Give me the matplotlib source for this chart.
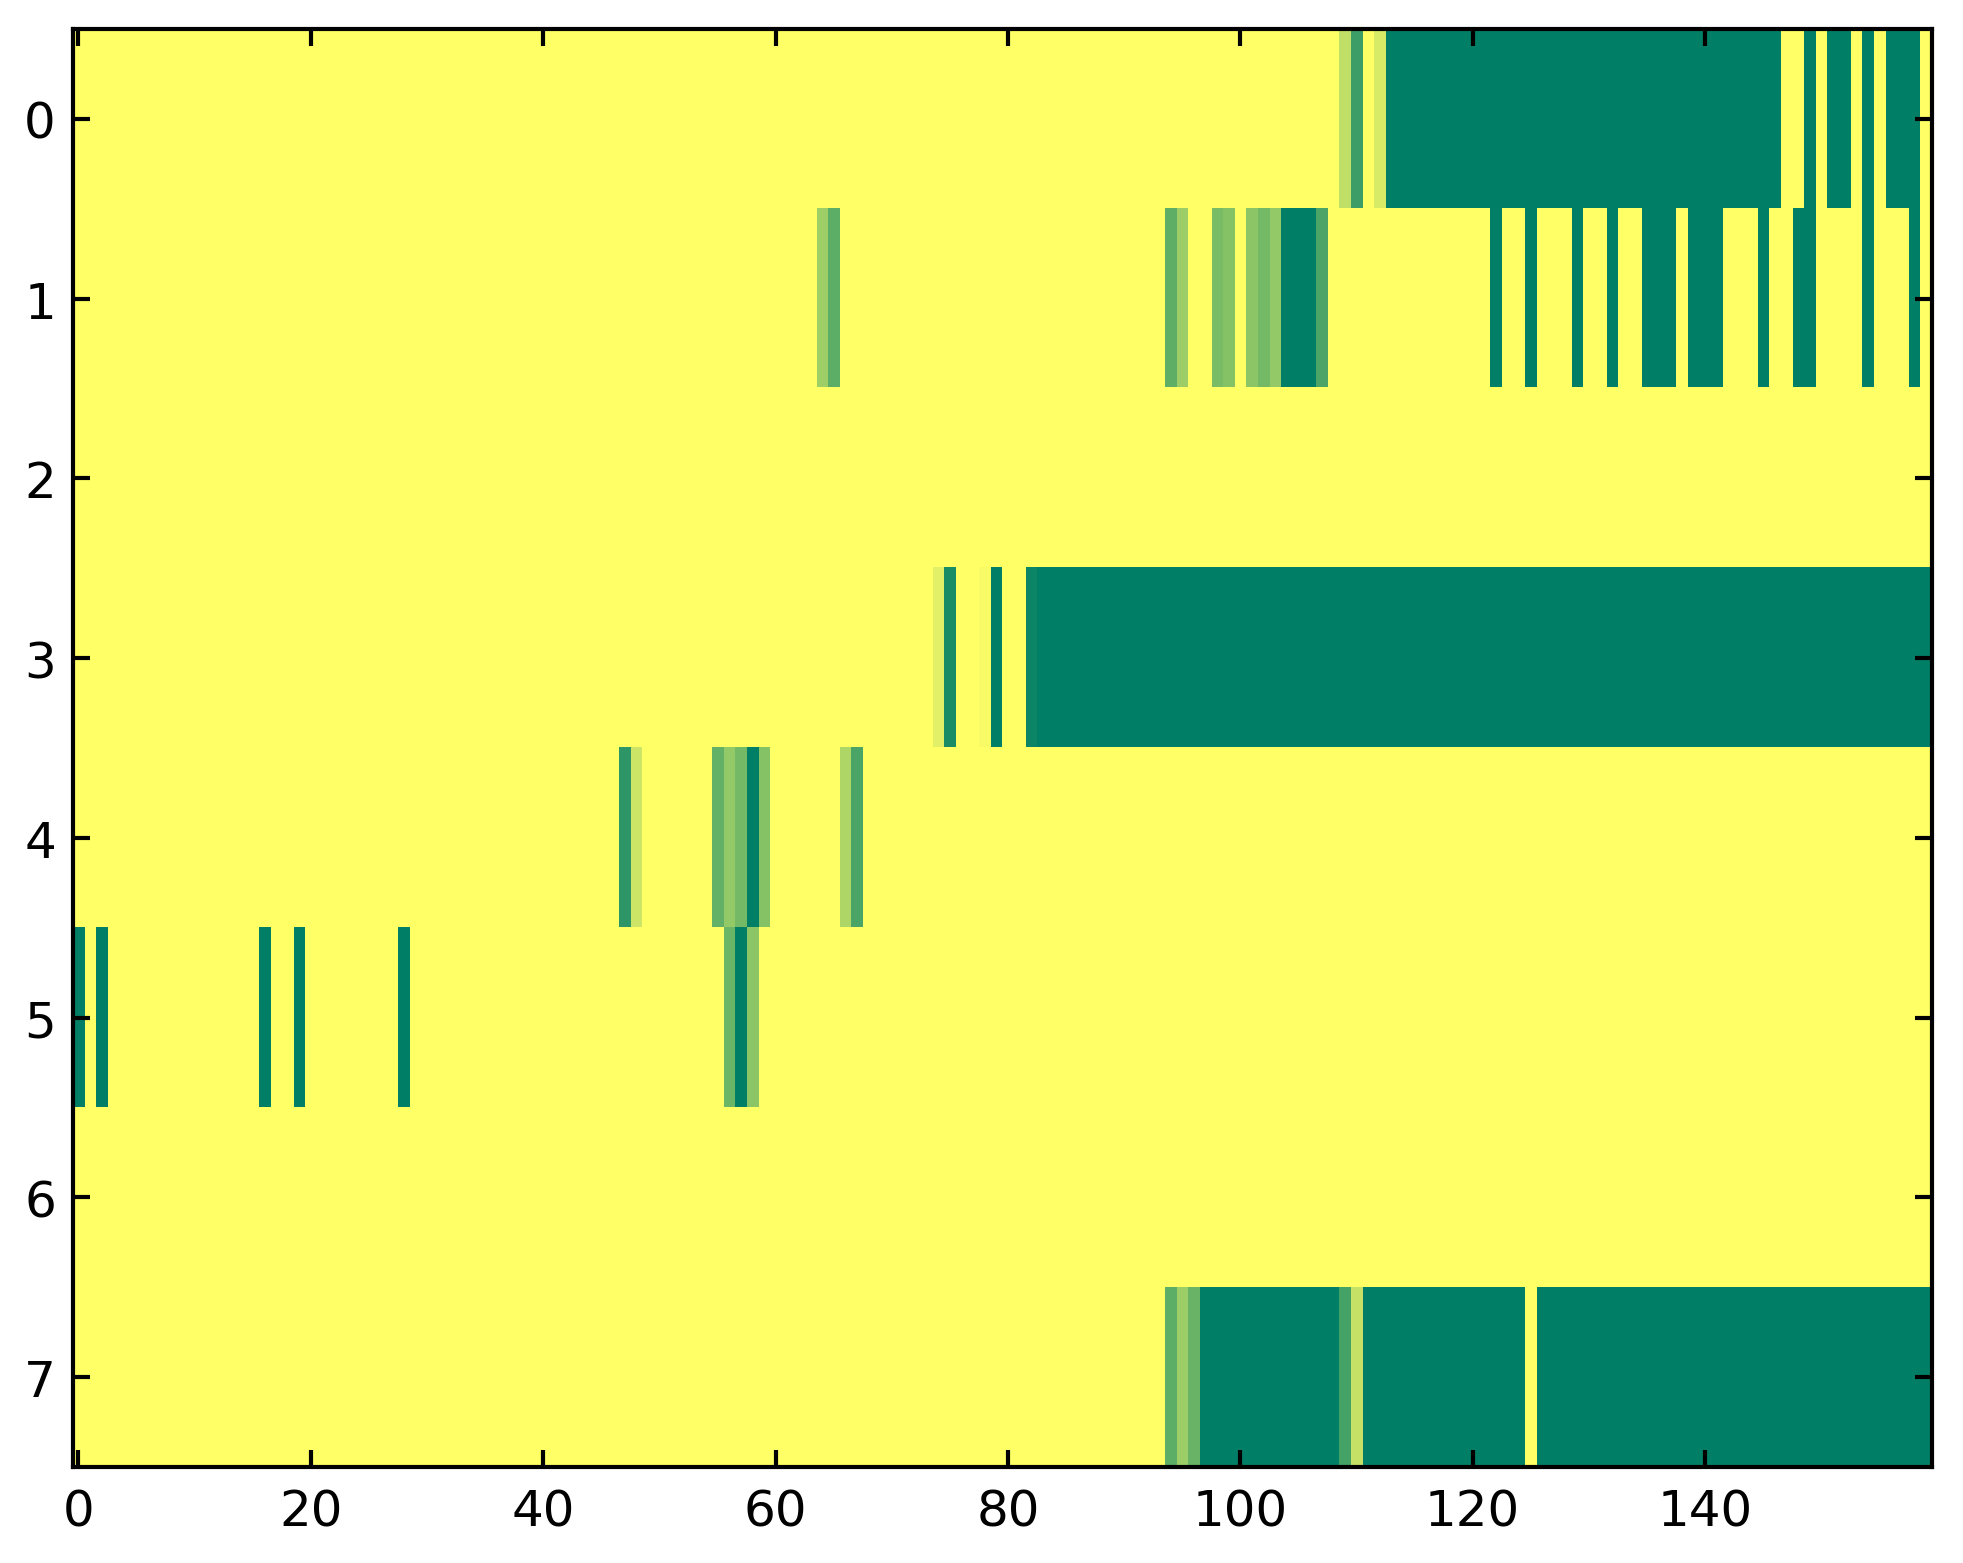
import matplotlib
matplotlib.use("Agg")
import matplotlib.pyplot as plt
import numpy as np

n_rows = 8
n_cols = 160

# (start, end inclusive, value) runs; everything else is 1.0 (yellow)
row0 = [(109, 109, 0.75), (110, 110, 0.24), (112, 112, 0.84),
        (113, 146, 0.0), (149, 149, 0.0), (151, 152, 0.0),
        (154, 154, 0.0), (156, 158, 0.0)]
row1 = [(64, 64, 0.62), (65, 65, 0.36), (94, 94, 0.37), (95, 95, 0.61),
        (98, 98, 0.48), (99, 99, 0.52), (101, 101, 0.55), (102, 102, 0.45),
        (103, 103, 0.58), (104, 106, 0.0), (107, 107, 0.30),
        (122, 122, 0.0), (125, 125, 0.0), (129, 129, 0.0), (132, 132, 0.0),
        (135, 137, 0.0), (139, 141, 0.0), (145, 145, 0.0), (148, 149, 0.0),
        (154, 154, 0.0), (158, 158, 0.0)]
row2 = []
row3 = [(74, 74, 0.88), (75, 75, 0.10), (78, 78, 0.97), (79, 79, 0.0),
        (82, 82, 0.05), (83, 159, 0.0)]
row4 = [(47, 47, 0.18), (48, 48, 0.80), (55, 55, 0.39), (56, 56, 0.58),
        (57, 57, 0.45), (58, 58, 0.0), (59, 59, 0.52),
        (66, 66, 0.68), (67, 67, 0.29)]
row5 = [(0, 0, 0.0), (2, 2, 0.0), (16, 16, 0.0), (19, 19, 0.0), (28, 28, 0.0),
        (56, 56, 0.42), (57, 57, 0.0), (58, 58, 0.55)]
row6 = []
row7 = [(94, 94, 0.36), (95, 95, 0.61), (96, 96, 0.41), (97, 108, 0.0),
        (109, 109, 0.27), (110, 110, 0.77), (111, 124, 0.0), (126, 159, 0.0)]

rows = [row0, row1, row2, row3, row4, row5, row6, row7]

data = np.ones((n_rows, n_cols))
for i, runs in enumerate(rows):
    for start, end, val in runs:
        data[i, start:end + 1] = val

fig = plt.figure(figsize=(1963 / 300, 1564 / 300), dpi=300)
ax = fig.add_axes([0.037, 0.0614, 0.947, 0.9195])
ax.imshow(data, cmap="summer", vmin=0, vmax=1, aspect="auto", interpolation="nearest")

ax.set_xticks(range(0, 160, 20))
ax.set_yticks(range(8))
ax.tick_params(direction="in", top=True, right=True, length=4, width=1,
               labelsize=12)
ax.tick_params(axis="x", pad=5)
ax.tick_params(axis="y", pad=4)
for s in ax.spines.values():
    s.set_linewidth(1.0)

fig.savefig("out.png", dpi=300)
